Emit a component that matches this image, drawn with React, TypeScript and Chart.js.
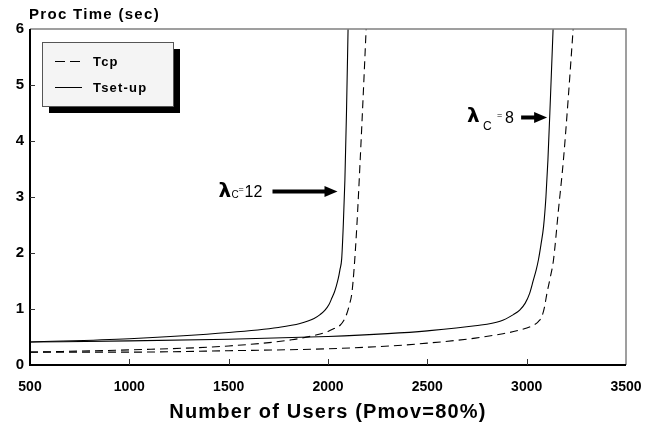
import React, { useEffect, useRef } from "react";
import { Chart, registerables } from "chart.js";

Chart.register(...registerables);

// ---- data ----
const xTicks = [500, 1000, 1500, 2000, 2500, 3000, 3500];
const yTicks = [0, 1, 2, 3, 4, 5, 6];

const setupL12X = [500, 1000, 1500, 1750, 1859, 1930, 1960, 1985, 2005, 2020, 2032, 2041, 2052, 2060, 2069, 2077, 2085, 2093, 2101];
const setupL12Y = [0.41, 0.47, 0.58, 0.67, 0.74, 0.83, 0.9, 0.98, 1.08, 1.2, 1.3, 1.4, 1.55, 1.7, 1.9, 2.5, 3.3, 4.5, 6.0];

const tcpL12X = [500, 1000, 1500, 1817, 1944, 2000, 2030, 2061, 2080, 2095, 2108, 2120, 2132, 2145, 2162, 2177, 2192];
const tcpL12Y = [0.23, 0.27, 0.34, 0.45, 0.54, 0.6, 0.65, 0.71, 0.8, 0.92, 1.08, 1.28, 1.75, 2.47, 3.66, 4.8, 6.0];

const setupL8X = [500, 1000, 1500, 2000, 2300, 2500, 2741, 2866, 2933, 2965, 2992, 3015, 3034, 3048, 3059, 3072, 3085, 3097, 3107, 3120, 3133];
const setupL8Y = [0.41, 0.43, 0.46, 0.51, 0.56, 0.61, 0.7, 0.78, 0.9, 0.98, 1.1, 1.28, 1.52, 1.7, 1.875, 2.15, 2.47, 3.0, 3.66, 4.8, 6.0];

const tcpL8X = [500, 1000, 1500, 2000, 2313, 2500, 2741, 2866, 2950, 3034, 3060, 3076, 3090, 3102, 3118, 3135, 3160, 3185, 3210, 3234];
const tcpL8Y = [0.23, 0.23, 0.255, 0.29, 0.34, 0.39, 0.48, 0.55, 0.61, 0.71, 0.78, 0.86, 1.04, 1.28, 1.55, 1.875, 2.77, 3.66, 4.8, 6.0];

const legendLabels = ["Tcp", "Tset-up"];
const yTitle = "Proc Time (sec)";
const xTitle = "Number of Users (Pmov=80%)";
const lambdaLabels = [
  { value: "12", x: 2083, y: 3.1 },
  { value: "8", x: 3113, y: 4.42 },
];

const FONT = "'Liberation Sans', Arial, sans-serif";
const DASH = [8, 5];

function pts(xs: number[], ys: number[]) {
  return xs.map((x, i) => ({ x, y: ys[i] }));
}

const decorPlugin = {
  id: "decor",
  afterDraw(chart: any) {
    const ctx = chart.ctx as any;
    const { left, right, top, bottom } = chart.chartArea;
    const xs = chart.scales.x;
    const ys = chart.scales.y;
    ctx.save();

    // frame: top and right grey, bottom and left black
    ctx.strokeStyle = "#808080";
    ctx.lineWidth = 1.5;
    ctx.beginPath();
    ctx.moveTo(left, top);
    ctx.lineTo(right, top);
    ctx.lineTo(right, bottom);
    ctx.stroke();
    ctx.strokeStyle = "#000";
    ctx.lineWidth = 2;
    ctx.beginPath();
    ctx.moveTo(left, top);
    ctx.lineTo(left, bottom);
    ctx.lineTo(right, bottom);
    ctx.stroke();

    // inward ticks
    ctx.strokeStyle = "#333";
    ctx.lineWidth = 1;
    ctx.beginPath();
    xTicks.slice(1, -1).forEach((v) => {
      const px = Math.round(xs.getPixelForValue(v)) + 0.5;
      ctx.moveTo(px, bottom);
      ctx.lineTo(px, bottom - 6);
    });
    yTicks.slice(1, -1).forEach((v) => {
      const py = Math.round(ys.getPixelForValue(v)) + 0.5;
      ctx.moveTo(left, py);
      ctx.lineTo(left + 5, py);
    });
    ctx.stroke();

    // titles
    ctx.fillStyle = "#000";
    ctx.textBaseline = "alphabetic";
    ctx.textAlign = "left";
    ctx.font = `bold 15px ${FONT}`;
    ctx.letterSpacing = "1.3px";
    ctx.fillText(yTitle, 29, 19);
    ctx.textAlign = "center";
    ctx.font = `bold 20px ${FONT}`;
    ctx.letterSpacing = "1.2px";
    ctx.fillText(xTitle, (left + right) / 2, 418);

    // legend with shadow
    const lx = 42, ly = 42, lw = 131, lh = 64;
    ctx.fillStyle = "#000";
    ctx.fillRect(lx + 7, ly + 7, lw, lh);
    ctx.fillStyle = "#f4f4f4";
    ctx.fillRect(lx, ly, lw, lh);
    ctx.strokeStyle = "#555";
    ctx.lineWidth = 1;
    ctx.strokeRect(lx + 0.5, ly + 0.5, lw, lh);
    ctx.strokeStyle = "#000";
    ctx.lineWidth = 1;
    ctx.setLineDash([10, 5]);
    ctx.beginPath();
    ctx.moveTo(55, 61.5);
    ctx.lineTo(82, 61.5);
    ctx.stroke();
    ctx.setLineDash([]);
    ctx.beginPath();
    ctx.moveTo(55, 87.5);
    ctx.lineTo(82, 87.5);
    ctx.stroke();
    ctx.fillStyle = "#000";
    ctx.textAlign = "left";
    ctx.textBaseline = "middle";
    ctx.font = `bold 13px ${FONT}`;
    ctx.letterSpacing = "1.2px";
    ctx.fillText(legendLabels[0], 93, 62);
    ctx.fillText(legendLabels[1], 93, 88);
    ctx.letterSpacing = "0px";

    // lambda annotations with arrows
    const drawArrow = (x0: number, x1: number, y: number) => {
      ctx.strokeStyle = "#000";
      ctx.lineWidth = 4;
      ctx.beginPath();
      ctx.moveTo(x0, y);
      ctx.lineTo(x1 - 10, y);
      ctx.stroke();
      ctx.fillStyle = "#000";
      ctx.beginPath();
      ctx.moveTo(x1, y);
      ctx.lineTo(x1 - 13, y - 5.5);
      ctx.lineTo(x1 - 13, y + 5.5);
      ctx.closePath();
      ctx.fill();
    };
    // lambda_c = 12
    {
      const a = lambdaLabels[0];
      const tipX = xs.getPixelForValue(a.x) - 7;
      const ay = ys.getPixelForValue(a.y);
      drawArrow(tipX - 65, tipX, ay);
      ctx.fillStyle = "#000";
      ctx.textAlign = "left";
      ctx.textBaseline = "alphabetic";
      ctx.font = `bold 20px 'DejaVu Sans', sans-serif`;
      ctx.fillText("λ", tipX - 119, ay + 6);
      ctx.font = `10px ${FONT}`;
      ctx.fillText("C", tipX - 106, ay + 7);
      ctx.font = `9px ${FONT}`;
      ctx.fillText("=", tipX - 99, ay + 1);
      ctx.font = `16px ${FONT}`;
      ctx.fillText(a.value, tipX - 93, ay + 6);
    }
    // lambda_c = 8
    {
      const a = lambdaLabels[1];
      const tipX = xs.getPixelForValue(a.x) - 2;
      const ay = ys.getPixelForValue(a.y);
      drawArrow(tipX - 26, tipX, ay);
      ctx.fillStyle = "#000";
      ctx.textAlign = "left";
      ctx.textBaseline = "alphabetic";
      ctx.font = `bold 20px 'DejaVu Sans', sans-serif`;
      ctx.fillText("λ", tipX - 80, ay + 5);
      ctx.font = `12px ${FONT}`;
      ctx.fillText("C", tipX - 64, ay + 13);
      ctx.font = `9px ${FONT}`;
      ctx.fillText("=", tipX - 50, ay + 1);
      ctx.font = `16px ${FONT}`;
      ctx.fillText(a.value, tipX - 42, ay + 6);
    }
    ctx.restore();
  },
};

export default function App() {
  const ref = useRef<HTMLCanvasElement | null>(null);
  useEffect(() => {
    if (!ref.current) return;
    const lineBase = {
      borderColor: "#000",
      borderWidth: 1.1,
      pointRadius: 0,
      fill: false,
      cubicInterpolationMode: "monotone" as const,
    };
    const chart = new Chart(ref.current, {
      type: "line",
      data: {
        datasets: [
          { ...lineBase, label: "Tcp λc=12", data: pts(tcpL12X, tcpL12Y), borderDash: DASH },
          { ...lineBase, label: "Tset-up λc=12", data: pts(setupL12X, setupL12Y) },
          { ...lineBase, label: "Tcp λc=8", data: pts(tcpL8X, tcpL8Y), borderDash: DASH },
          { ...lineBase, label: "Tset-up λc=8", data: pts(setupL8X, setupL8Y) },
        ],
      },
      options: {
        animation: false,
        responsive: false,
        devicePixelRatio: 1,
        layout: { padding: { left: 0, top: 29, right: 33, bottom: 0 } },
        plugins: { legend: { display: false }, tooltip: { enabled: false }, title: { display: false } },
        scales: {
          x: {
            type: "linear",
            min: 500,
            max: 3500,
            afterFit: (s: any) => {
              s.height = 60;
            },
            afterBuildTicks: (s: any) => {
              s.ticks = xTicks.map((v) => ({ value: v }));
            },
            grid: { display: false, drawTicks: false },
            border: { display: false },
            ticks: {
              padding: 14,
              maxRotation: 0,
              autoSkip: false,
              color: "#000",
              callback: (v: any) => String(v),
              font: { family: FONT, size: 14, weight: "bold" },
            },
          },
          y: {
            type: "linear",
            min: 0,
            max: 6,
            afterFit: (s: any) => {
              s.width = 30;
            },
            afterBuildTicks: (s: any) => {
              s.ticks = yTicks.map((v) => ({ value: v }));
            },
            grid: { display: false, drawTicks: false },
            border: { display: false },
            ticks: {
              padding: 6,
              color: "#000",
              callback: (v: any) => String(v),
              font: { family: FONT, size: 15, weight: "bold" },
            },
          },
        },
      },
      plugins: [decorPlugin],
    });
    return () => chart.destroy();
  }, []);
  return (
    <div style={{ position: "absolute", left: 0, top: 0, width: 659, height: 425, background: "#fff" }}>
      <canvas ref={ref} width={659} height={425} style={{ display: "block" }} />
    </div>
  );
}
